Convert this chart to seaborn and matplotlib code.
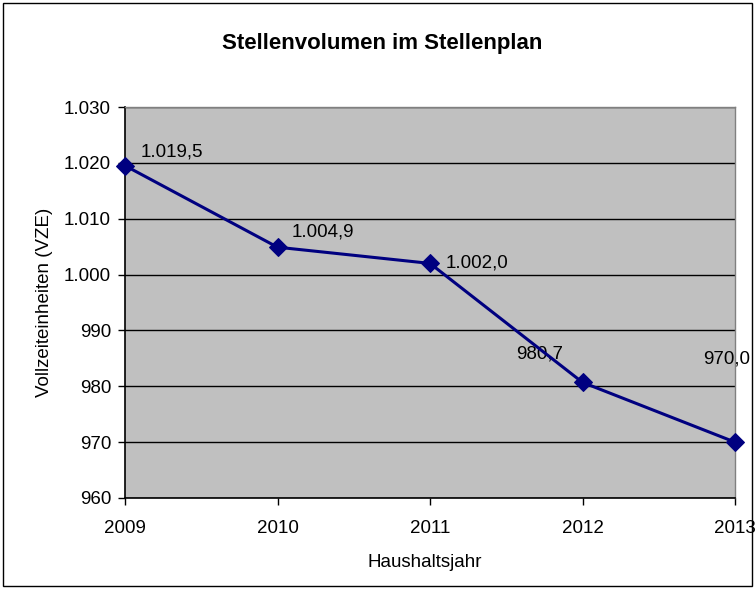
import matplotlib
matplotlib.use("Agg")
import matplotlib.pyplot as plt
import seaborn as sns
import pandas as pd
from matplotlib.patches import Rectangle

years = [2009, 2010, 2011, 2012, 2013]
values = [1019.5, 1004.9, 1002.0, 980.7, 970.0]
labels = ["1.019,5", "1.004,9", "1.002,0", "980,7", "970,0"]
label_offsets_px = [(47, 14), (45, 15), (47, 0), (-43, 28), (-8, 83)]
y_ticks = [960, 970, 980, 990, 1000, 1010, 1020, 1030]
y_tick_labels = ["960", "970", "980", "990", "1.000", "1.010", "1.020", "1.030"]

sns.set_style("white")
plt.rcParams['font.family'] = ['Liberation Sans', 'DejaVu Sans']
plt.rcParams.update({"text.color": "black", "axes.labelcolor": "black",
                     "xtick.color": "black", "ytick.color": "black"})

df = pd.DataFrame({"Jahr": years, "VZE": values})

fig = plt.figure(figsize=(7.55, 5.89), dpi=100)
ax = fig.add_axes([125/755, 1 - 498/589, 610/755, 391/589])
ax.set_facecolor("#C0C0C0")

sns.lineplot(data=df, x="Jahr", y="VZE", ax=ax, color="#000080", linewidth=2.2,
             marker="D", markersize=9, markeredgecolor="#000080", zorder=5, clip_on=False)

FS = 13.5
ax.set_xlim(2009, 2013)
ax.set_ylim(960, 1030)
ax.set_xticks(years)
ax.set_xticklabels([str(y) for y in years], fontsize=FS)
ax.set_yticks(y_ticks)
ax.set_yticklabels(y_tick_labels, fontsize=FS)
ax.yaxis.grid(True, color="black", linewidth=1)
ax.set_axisbelow(True)
ax.tick_params(axis="both", direction="out", length=5, width=1, color="black",
               labelcolor="black", pad=5, bottom=True, left=True)
ax.tick_params(axis="x", pad=11)

for s in ["left", "bottom"]:
    ax.spines[s].set_color("black")
    ax.spines[s].set_linewidth(1.2)
for s in ["top", "right"]:
    ax.spines[s].set_color("#808080")
    ax.spines[s].set_linewidth(1)

for x, y, t, (dx, dy) in zip(years, values, labels, label_offsets_px):
    ax.annotate(t, (x, y), xytext=(dx * 0.72, dy * 0.72), textcoords="offset points",
                ha="center", va="center", fontsize=FS, color="black", annotation_clip=False)

ax.set_xlabel("Haushaltsjahr", fontsize=FS, labelpad=12, color="black")
ax.set_ylabel("Vollzeiteinheiten (VZE)", fontsize=FS, labelpad=8, color="black")
fig.text(382/755, 1 - 44/589, "Stellenvolumen im Stellenplan",
         ha="center", va="center", fontsize=16, fontweight="bold", color="black")

fig.patches.append(Rectangle((3/755, 3/589), 749/755, 583/589, transform=fig.transFigure,
                             fill=False, edgecolor="black", linewidth=1))

ax.xaxis.label.set_position(((425 - 125) / 610, 0))

fig.savefig("out.png", dpi=100)
